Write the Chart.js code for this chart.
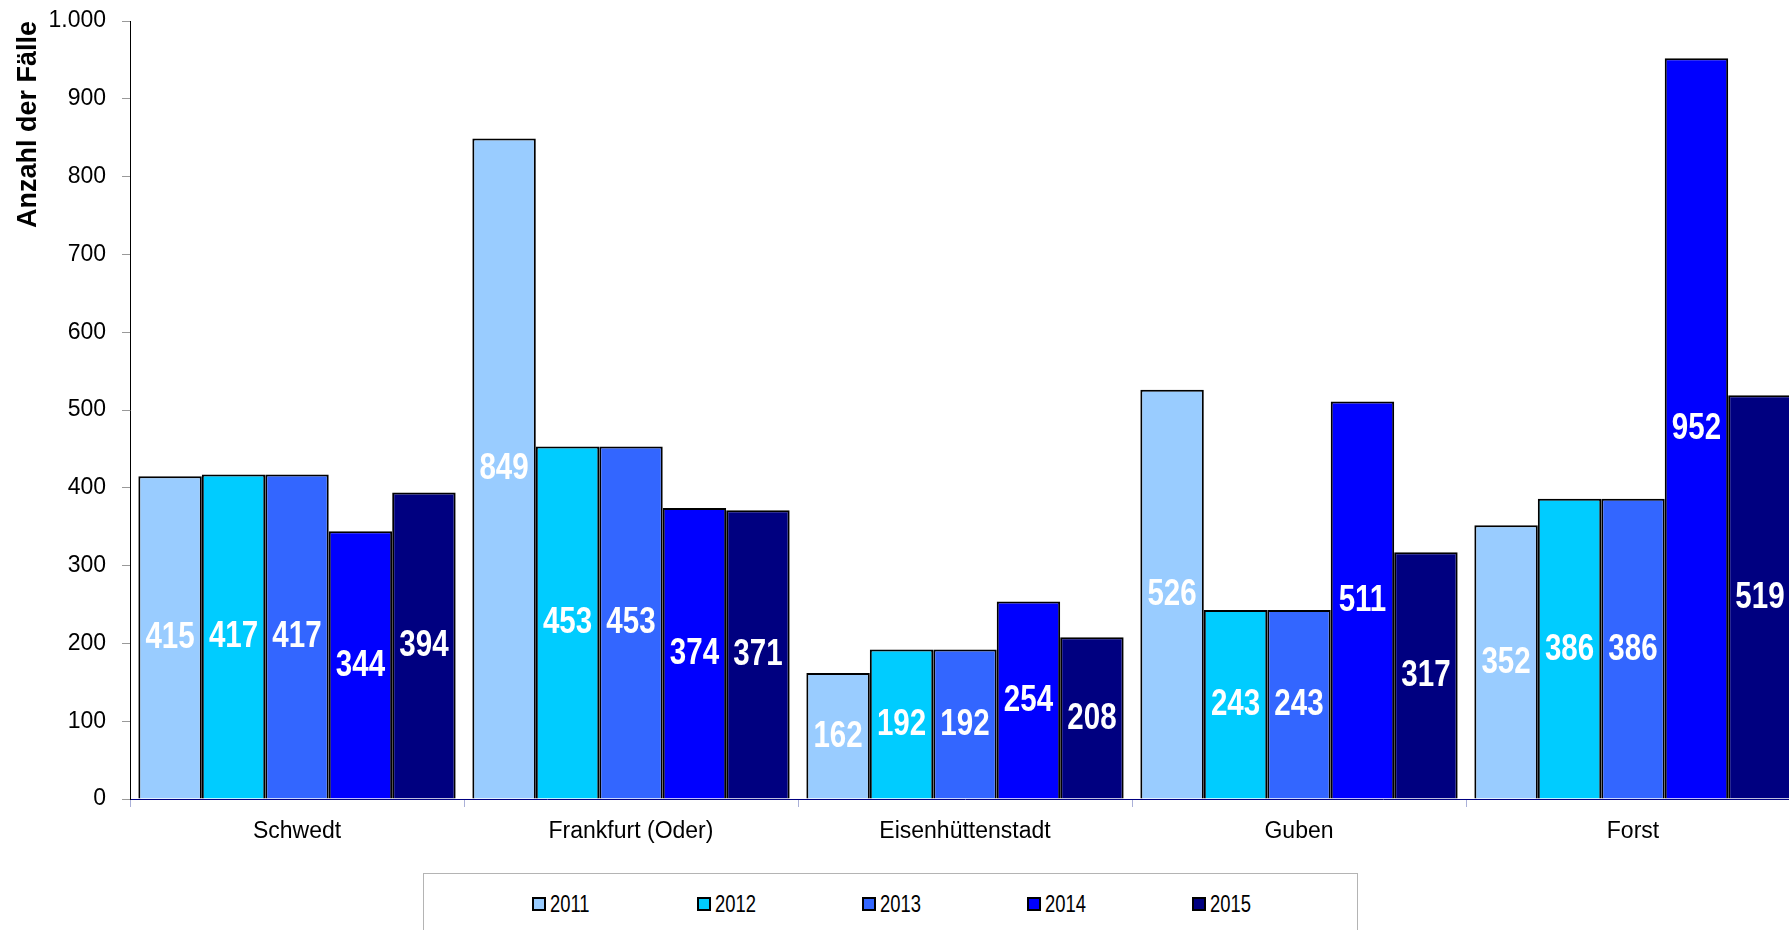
<!DOCTYPE html>
<html lang="de">
<head>
<meta charset="utf-8">
<title>Anzahl der Fälle</title>
<script src="https://cdn.jsdelivr.net/npm/chart.js@4"></script>
<style>
  html, body { margin: 0; padding: 0; background: #fff; overflow: hidden; }
  body { width: 1789px; height: 930px; position: relative; }
  #wrap { position: absolute; left: 0; top: 0; width: 1804px; height: 860px; }
  #legend {
    position: absolute; left: 423px; top: 873px; width: 935px; height: 90px;
    border: 1px solid #b4b4b4; box-sizing: border-box;
    display: flex; padding-left: 108px; padding-top: 18px;
    font-family: "Liberation Sans", Arial, sans-serif;
    font-size: 23px; color: #000;
  }
  .item { width: 167px; display: flex; align-items: center; height: 24px; }
  .sw { width: 10px; height: 10px; border: 2px solid #000; margin-right: 4px; flex: none; }
  .txt { display: inline-block; transform: scaleX(0.8); transform-origin: left center; }
</style>
</head>
<body>
<div id="wrap"><canvas id="chart"></canvas></div>
<div id="legend"></div>
<script>
const cities = ["Schwedt", "Frankfurt (Oder)", "Eisenhüttenstadt", "Guben", "Forst"];
const years = ["2011", "2012", "2013", "2014", "2015"];
const values2011 = [415, 849, 162, 526, 352];
const values2012 = [417, 453, 192, 243, 386];
const values2013 = [417, 453, 192, 243, 386];
const values2014 = [344, 374, 254, 511, 952];
const values2015 = [394, 371, 208, 317, 519];
const yTicks = [0, 100, 200, 300, 400, 500, 600, 700, 800, 900, 1000];

const colors = ["#99CCFF", "#00CCFF", "#3366FF", "#0000FF", "#000080"];
const series = [values2011, values2012, values2013, values2014, values2015];
const sans = '"Liberation Sans", Arial, sans-serif';

function deNumber(v) {
  // 1000 -> "1.000"
  return String(v).replace(/\B(?=(\d{3})+(?!\d))/g, ".");
}

// values written in the middle of every bar, squeezed like Arial Narrow
const barLabels = {
  id: "barLabels",
  afterDatasetsDraw(chart) {
    const ctx = chart.ctx;
    chart.data.datasets.forEach(function (ds, i) {
      chart.getDatasetMeta(i).data.forEach(function (bar, j) {
        const p = bar.getProps(["x", "y", "base"], true);
        ctx.save();
        ctx.translate(p.x, (p.y + p.base) / 2 + 1);
        ctx.scale(0.82, 1);
        ctx.font = "bold 36px " + sans;
        ctx.fillStyle = "#fff";
        ctx.textAlign = "center";
        ctx.textBaseline = "middle";
        ctx.fillText(ds.data[j], 0, 0);
        ctx.restore();
      });
    });
  }
};

new Chart(document.getElementById("chart"), {
  type: "bar",
  data: {
    labels: cities,
    datasets: years.map(function (y, i) {
      return {
        label: y,
        data: series[i],
        backgroundColor: colors[i],
        borderColor: "#000",
        borderWidth: 2,
        borderSkipped: "bottom",
        categoryPercentage: 0.95,
        barPercentage: 1
      };
    })
  },
  options: {
    responsive: true,
    maintainAspectRatio: false,
    animation: false,
    layout: { padding: { top: 21, right: 4, left: 0, bottom: 0 } },
    plugins: {
      legend: { display: false },
      tooltip: { enabled: false }
    },
    scales: {
      x: {
        afterFit: function (s) { s.height = 61; },
        grid: { drawOnChartArea: false, tickLength: 8, color: "#aab0d8", offset: true },
        border: { color: "#000080", width: 1 },
        ticks: { color: "#000", padding: 11, font: { family: sans, size: 23 } }
      },
      y: {
        min: 0,
        max: 1000,
        afterFit: function (s) { s.width = 130; s.paddingTop = 0; s.paddingBottom = 0; },
        afterBuildTicks: function (s) { s.ticks = yTicks.map(function (v) { return { value: v }; }); },
        grid: { drawOnChartArea: false, tickLength: 8, color: "#999" },
        border: { color: "#000", width: 1 },
        ticks: {
          color: "#000", padding: 16,
          font: { family: sans, size: 23 },
          callback: function (v) { return deNumber(v); }
        },
        title: {
          display: true,
          text: "Anzahl der Fälle",
          align: "end",
          color: "#000",
          padding: { top: 15, bottom: 0 },
          font: { family: sans, size: 27, weight: "bold", lineHeight: 1 }
        }
      }
    }
  },
  plugins: [barLabels]
});

const legend = document.getElementById("legend");
years.forEach(function (y, i) {
  const item = document.createElement("div");
  item.className = "item";
  const sw = document.createElement("span");
  sw.className = "sw";
  sw.style.background = colors[i];
  const txt = document.createElement("span");
  txt.className = "txt";
  txt.textContent = y;
  item.appendChild(sw);
  item.appendChild(txt);
  legend.appendChild(item);
});
</script>
</body>
</html>
